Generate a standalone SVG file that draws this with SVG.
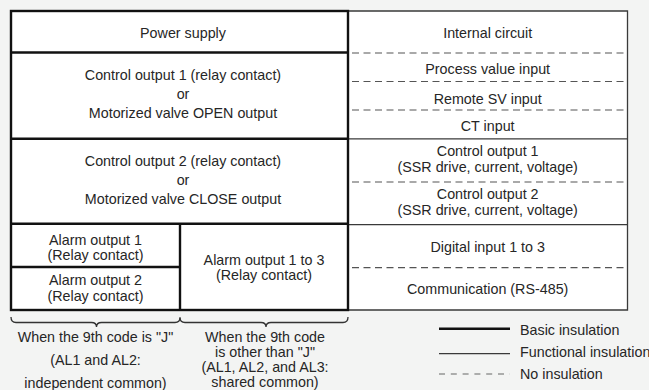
<svg xmlns="http://www.w3.org/2000/svg" width="649" height="390" viewBox="0 0 649 390">
<style>
text{font-family:"Liberation Sans",Arial,sans-serif;font-size:14.3px;fill:#262626;text-anchor:middle}
.lg{text-anchor:start}
.basic{stroke:#111;stroke-width:2.4;fill:none}
.func{stroke:#3a3a3a;stroke-width:1.3;fill:none}
.none{stroke:#555;stroke-width:1.2;stroke-dasharray:7 4.5;fill:none}
.brace{stroke:#333;stroke-width:1.3;fill:none}
</style>
<rect x="0" y="0" width="649" height="390" fill="#f3f4f3"/>
<rect x="11" y="11" width="616.5" height="299" fill="#fff"/>
<g id="connectors">
<path class="func" d="M348,11 H627.5 V310 H348"/>
<path class="func" d="M348,138.8 H627.5"/>
<path class="func" d="M348,224.7 H627.5"/>
<path class="none" d="M352,53 H627.5"/>
<path class="none" d="M352,81.5 H627.5"/>
<path class="none" d="M352,110 H627.5"/>
<path class="none" d="M352,182 H627.5"/>
<path class="none" d="M352,267.7 H627.5"/>
<rect class="basic" x="11" y="11" width="337" height="299"/>
<path class="basic" d="M11,52.5 H348"/>
<path class="basic" d="M11,138.8 H348"/>
<path class="basic" d="M11,223.8 H348"/>
<path class="basic" d="M180,223.8 V310"/>
<path class="basic" d="M11,267 H180"/>
<path class="brace" d="M11,317 Q11,322.5 16,322.5 H91.5 Q96.5,322.5 96.5,327 Q96.5,322.5 101.5,322.5 H175 Q180,322.5 180,317.5"/>
<path class="brace" d="M180,317.5 Q180,322.5 185,322.5 H261 Q266,322.5 266,327 Q266,322.5 271,322.5 H343 Q348,322.5 348,317"/>
<path class="basic" d="M439,328.8 H510"/>
<path class="func" d="M439,353.7 H510"/>
<path stroke="#666" stroke-width="1.2" stroke-dasharray="6 5.8" fill="none" d="M439,374 H510"/>
</g>
<g id="power-supply"><text x="183" y="37.7">Power supply</text></g>
<g id="control-output-1-relay">
<text x="183" y="80.3">Control output 1 (relay contact)</text>
<text x="183" y="99.3">or</text>
<text x="183" y="118">Motorized valve OPEN output</text>
</g>
<g id="control-output-2-relay">
<text x="183" y="166.3">Control output 2 (relay contact)</text>
<text x="183" y="184.5">or</text>
<text x="183" y="203.5">Motorized valve CLOSE output</text>
</g>
<g id="alarm-output-1">
<text x="95.5" y="244.8">Alarm output 1</text>
<text x="95.5" y="260.3">(Relay contact)</text>
</g>
<g id="alarm-output-2">
<text x="95.5" y="285.3">Alarm output 2</text>
<text x="95.5" y="300.8">(Relay contact)</text>
</g>
<g id="alarm-output-1-3">
<text x="264" y="264.8">Alarm output 1 to 3</text>
<text x="264" y="280.3">(Relay contact)</text>
</g>
<g id="internal-circuit"><text x="487.7" y="38">Internal circuit</text></g>
<g id="process-value-input"><text x="487.7" y="73.5">Process value input</text></g>
<g id="remote-sv-input"><text x="487.7" y="103.5">Remote SV input</text></g>
<g id="ct-input"><text x="487.7" y="131">CT input</text></g>
<g id="control-output-1-ssr">
<text x="487.7" y="156">Control output 1</text>
<text x="487.7" y="171.5">(SSR drive, current, voltage)</text>
</g>
<g id="control-output-2-ssr">
<text x="487.7" y="199">Control output 2</text>
<text x="487.7" y="214.5">(SSR drive, current, voltage)</text>
</g>
<g id="digital-input"><text x="487.7" y="252">Digital input 1 to 3</text></g>
<g id="communication"><text x="487.7" y="293.5">Communication (RS-485)</text></g>
<g id="note-j">
<text x="95.5" y="342">When the 9th code is "J"</text>
<text x="95.5" y="365">(AL1 and AL2:</text>
<text x="95.5" y="388">independent common)</text>
</g>
<g id="note-other">
<text x="265" y="342">When the 9th code</text>
<text x="265" y="357">is other than "J"</text>
<text x="265" y="372">(AL1, AL2, and AL3:</text>
<text x="265" y="387">shared common)</text>
</g>
<g id="legend">
<text class="lg" x="520" y="335.3">Basic insulation</text>
<text class="lg" x="520" y="357">Functional insulation</text>
<text class="lg" x="520" y="378.5">No insulation</text>
</g>
</svg>
